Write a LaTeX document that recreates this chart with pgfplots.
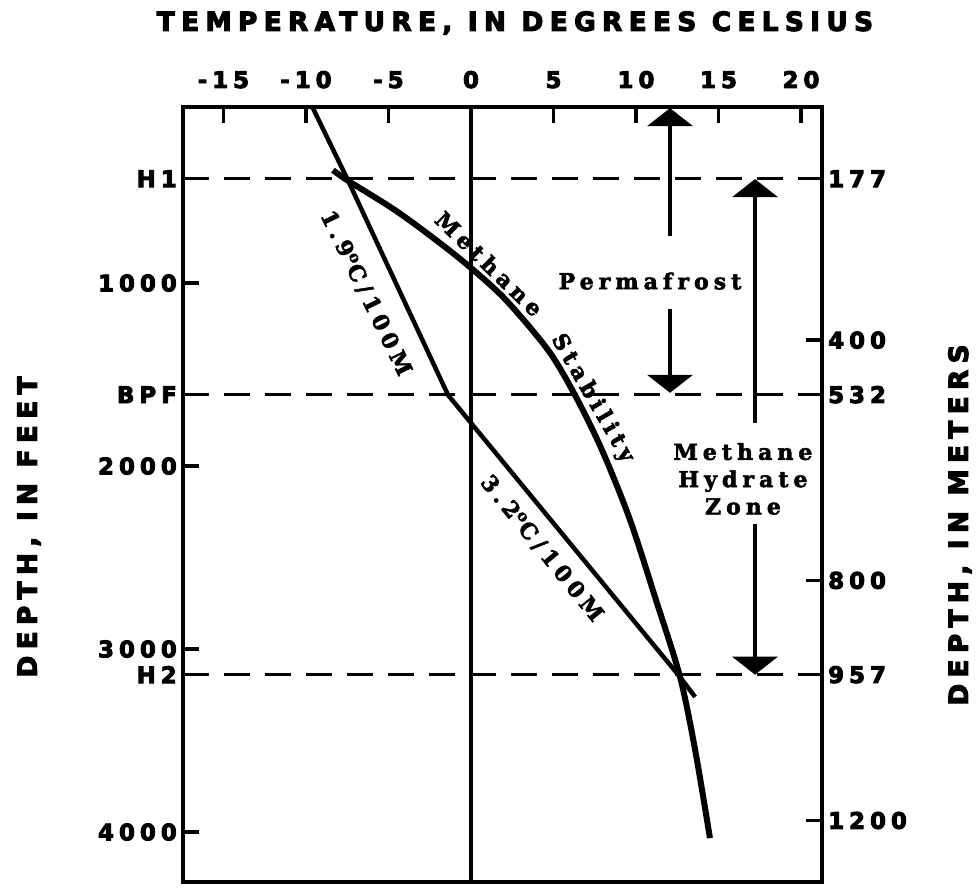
\documentclass[border=0pt]{standalone}
\usepackage{pgfplots}
\pgfplotsset{compat=1.18}
\usepackage{fontspec}
\usetikzlibrary{arrows.meta}
\setmainfont{DejaVu Sans}
\newfontfamily\labfont[LetterSpace=22,FakeBold=4]{DejaVu Sans Bold}
\newfontfamily\ttlfont[LetterSpace=24,FakeBold=4]{DejaVu Sans Bold}
\newfontfamily\serfont[LetterSpace=23,FakeBold=2.5]{DejaVu Serif Bold}
\newcommand\tlab{\labfont\fontsize{13}{15}\selectfont}
\newcommand\ttl{\ttlfont\fontsize{15}{17}\selectfont}
\newcommand\ser{\serfont\fontsize{12.5}{15.5}\selectfont}
\begin{document}
\begin{tikzpicture}[x=1cm,y=1cm]
\useasboundingbox (0,0) rectangle (19.52,17.84);
\pgfplotsset{
  frame/.style={
    at={(3.66cm,0.2cm)}, anchor=south west,
    scale only axis, width=12.78cm, height=15.5cm,
    xmin=-17.45, xmax=21.27, ymin=38, ymax=4273, y dir=reverse,
    clip=false,
    axis line style={line width=0.08cm},
    tick align=inside, major tick length=0.32cm,
    major tick style={line width=0.07cm,black},
    ticklabel style={font=\tlab},
  }
}
\begin{axis}[frame,
  xtick={-15,-10,-5,0,5,10,15,20},
  xticklabels={-15,-10,-5,0,5,10,15,20},
  xtick pos=right, xticklabel pos=right,
  xticklabel style={yshift=0.25cm},
  ytick={430,1000,1610,2000,3000,3140,4000},
  yticklabels={H1,1000,BPF,2000,3000,H2,4000},
  ytick pos=left, yticklabel pos=left,
]
% reference lines
\addplot[line width=0.065cm, dash pattern=on 0.52cm off 0.3cm] coordinates {(-17.45,430) (21.27,430)};
\addplot[line width=0.065cm, dash pattern=on 0.52cm off 0.3cm] coordinates {(-17.45,1610) (21.27,1610)};
\addplot[line width=0.065cm, dash pattern=on 0.52cm off 0.3cm] coordinates {(-17.45,3140) (21.27,3140)};
\addplot[line width=0.065cm] coordinates {(0,38) (0,4273)};
% geothermal gradient
\addplot[line width=0.09cm] coordinates {(-9.58,44) (-7.52,426) (-1.39,1612) (12.67,3153) (13.58,3262)};
% methane stability
\addplot[line width=0.12cm, smooth, tension=0.5] coordinates {(-8.36,383) (-7.52,437) (-4.61,601) (-2.12,765) (-0.06,913) (2.12,1093) (4.67,1366) (6.30,1612) (7.94,1913) (9.64,2295) (11.21,2732) (12.67,3153) (13.60,3560) (14.48,4033)};
% arrows
\addplot[line width=0.08cm, -{Triangle[width=0.9cm,length=0.36cm]}] coordinates {(12.06,743) (12.06,44)};
\addplot[line width=0.08cm, -{Triangle[width=0.9cm,length=0.36cm]}] coordinates {(12.06,1142) (12.06,1600)};
\addplot[line width=0.08cm, -{Triangle[width=0.9cm,length=0.36cm]}] coordinates {(17.21,1765) (17.21,432)};
\addplot[line width=0.08cm, -{Triangle[width=0.9cm,length=0.36cm]}] coordinates {(17.21,2317) (17.21,3140)};
% text
\node[font=\ser] at (axis cs:10.85,989) {Permafrost};
\node[font=\ser, align=center] at (axis cs:16.48,2070) {Methane\\Hydrate\\Zone};
\node[font=\ser, rotate=-64] at (axis cs:-6.36,1055) {1.9\textsuperscript{o}C/100M};
\node[font=\ser, rotate=-44] at (axis cs:1.10,895) {Methane};
\node[font=\ser, rotate=-60] at (axis cs:7.35,1630) {Stability};
\node[font=\ser, rotate=-51] at (axis cs:4.30,2450) {3.2\textsuperscript{o}C/100M};
\end{axis}
\begin{axis}[frame,
  hide x axis, axis y line*=right,
  ytick={430,1312,1610,2625,3140,3937},
  yticklabels={177,400,532,800,957,1200},
]
\addplot[draw=none] coordinates {(0,1000)};
\end{axis}
\node[font=\ttl] at (10.30,17.38) {TEMPERATURE, IN DEGREES CELSIUS};
\node[font=\ttl, rotate=90] at (0.58,7.30) {DEPTH, IN FEET};
\node[font=\ttl, rotate=90] at (19.2,7.34) {DEPTH, IN METERS};
\end{tikzpicture}
\end{document}
